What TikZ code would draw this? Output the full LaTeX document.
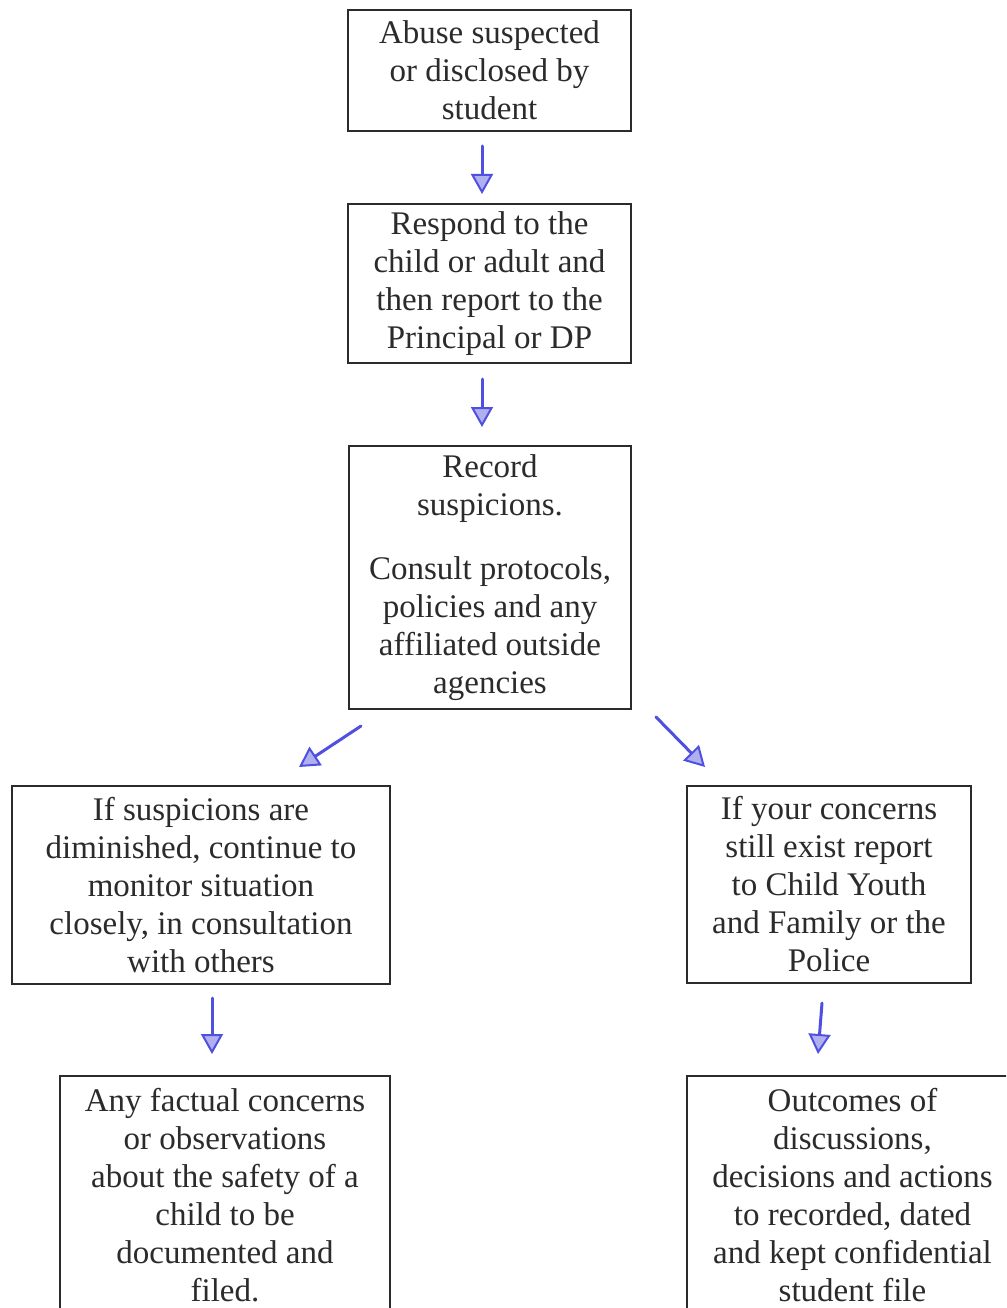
\documentclass[tikz,border=0pt]{standalone}
\usepackage{fontspec}
\setmainfont{Liberation Serif}
\usetikzlibrary{arrows.meta}
\definecolor{ink}{HTML}{2B2B2B}
\definecolor{pen}{HTML}{5050E0}
\tikzset{
  box/.style={draw=ink, line width=2pt, text=ink, align=center, inner sep=0pt,
    font=\fontsize{33}{38}\selectfont},
  flow/.style={draw=pen, line width=3pt, line cap=round,
    -{Triangle[length=20pt, width=22pt, line width=2pt, fill=pen!45]}}
}
\begin{document}
\begin{tikzpicture}[x=1pt,y=-1pt]
\useasboundingbox (0,0) rectangle (1006,1308);
\clip (0,0) rectangle (1006,1308);
\fill[white] (0,0) rectangle (1006,1308);
\node[box, minimum width=283pt, minimum height=121pt] (abuse) at (489.5,70.5)
  {Abuse suspected\\or disclosed by\\student};
\node[box, minimum width=283pt, minimum height=159pt] (resp) at (489.5,283.5)
  {Respond to the\\child or adult and\\then report to the\\Principal or DP};
\node[box, minimum width=282pt, minimum height=263pt] (rec) at (490,577.5)
  {Record\\suspicions.\\[26pt]Consult protocols,\\policies and any\\affiliated outside\\agencies};
\node[box, minimum width=378pt, minimum height=198pt] (left) at (201,885)
  {If suspicions are\\diminished, continue to\\monitor situation\\closely, in consultation\\with others};
\node[box, minimum width=284pt, minimum height=197pt] (right) at (829,884.5)
  {If your concerns\\still exist report\\to Child Youth\\and Family or the\\Police};
\node[box, minimum width=330pt, minimum height=238pt] (bl) at (225,1195)
  {Any factual concerns\\or observations\\about the safety of a\\child to be\\documented and\\filed.};
\node[box, minimum width=331pt, minimum height=238pt] (br) at (852.5,1195)
  {Outcomes of\\discussions,\\decisions and actions\\to recorded, dated\\and kept confidential\\student file};
\draw[flow] ([shift={(-7.5pt,-14pt)}]abuse.south) -- ([shift={(-7.5pt,9pt)}]resp.north);
\draw[flow] ([shift={(-7.5pt,-15pt)}]resp.south) -- ([shift={(-8pt,18pt)}]rec.north);
\draw[flow] ([shift={(13pt,-16pt)}]rec.south west) -- ([shift={(-92pt,18pt)}]left.north east);
\draw[flow] ([shift={(24pt,-7pt)}]rec.south east) -- ([shift={(19pt,18pt)}]right.north west);
\draw[flow] ([shift={(11pt,-13pt)}]left.south) -- ([shift={(-13pt,21pt)}]bl.north);
\draw[flow] ([shift={(-7pt,-19pt)}]right.south) -- ([shift={(-34.5pt,21pt)}]br.north);
\end{tikzpicture}
\end{document}
